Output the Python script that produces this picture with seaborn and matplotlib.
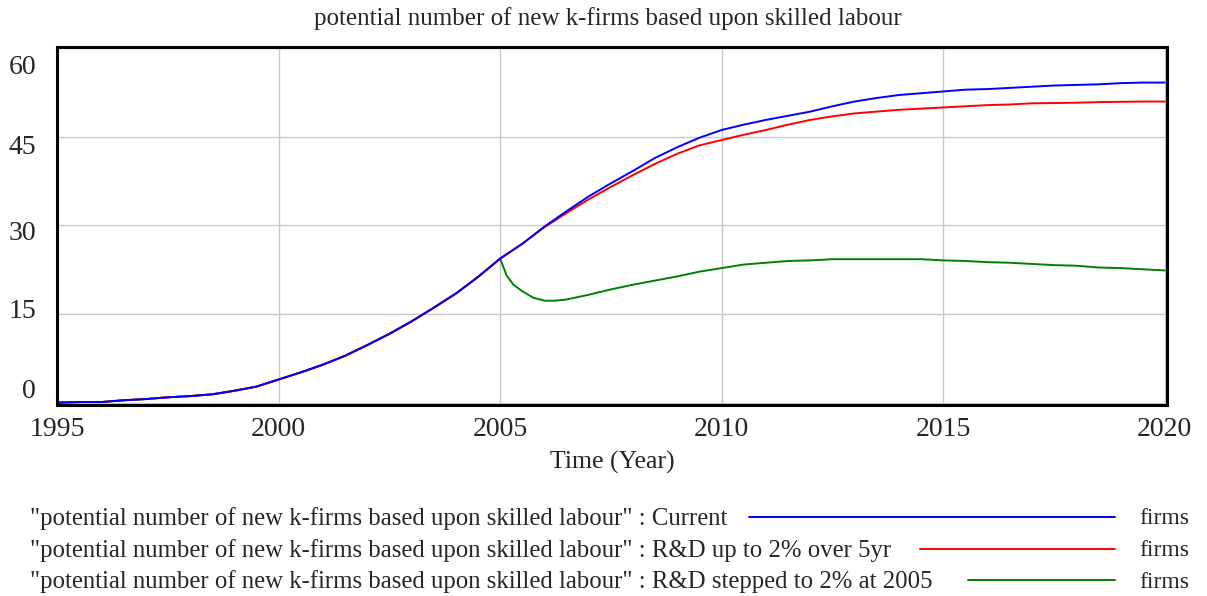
import numpy as np
import pandas as pd
import seaborn as sns
import matplotlib.pyplot as plt
from matplotlib.lines import Line2D
from matplotlib.transforms import ScaledTranslation

# Series values (firms)
years = [1995.0, 1995.5, 1996.0, 1996.5, 1997.0, 1997.5, 1998.0, 1998.5, 1999.0, 1999.5,
         2000.0, 2000.5, 2001.0, 2001.5, 2002.0, 2002.5, 2003.0, 2003.5, 2004.0, 2004.5,
         2005.0, 2005.5, 2006.0, 2006.5, 2007.0, 2007.5, 2008.0, 2008.5, 2009.0, 2009.5,
         2010.0, 2010.5, 2011.0, 2011.5, 2012.0, 2012.5, 2013.0, 2013.5, 2014.0, 2014.5,
         2015.0, 2015.5, 2016.0, 2016.5, 2017.0, 2017.5, 2018.0, 2018.5, 2019.0, 2019.5,
         2020.0]

current = [0.1, 0.2, 0.2, 0.5, 0.7, 1.0, 1.2, 1.5, 2.1, 2.8,
           4.0, 5.2, 6.5, 8.0, 9.8, 11.7, 13.8, 16.1, 18.5, 21.3,
           24.4, 26.9, 29.8, 32.4, 34.9, 37.1, 39.2, 41.4, 43.2, 44.8,
           46.1, 47.0, 47.8, 48.5, 49.2, 50.1, 50.9, 51.5, 52.0, 52.3,
           52.6, 52.9, 53.0, 53.2, 53.4, 53.6, 53.7, 53.8, 54.0, 54.1,
           54.1]

rd_over_5yr = [0.1, 0.2, 0.2, 0.5, 0.7, 1.0, 1.2, 1.5, 2.1, 2.8,
               4.0, 5.2, 6.5, 8.0, 9.8, 11.7, 13.8, 16.1, 18.5, 21.3,
               24.4, 26.9, 29.7, 32.1, 34.4, 36.5, 38.5, 40.4, 42.1, 43.5,
               44.4, 45.3, 46.1, 47.0, 47.8, 48.4, 48.9, 49.2, 49.5, 49.7,
               49.9, 50.1, 50.3, 50.4, 50.6, 50.65, 50.7, 50.8, 50.85, 50.9,
               50.9]

years_stepped = [1995.0, 1995.5, 1996.0, 1996.5, 1997.0, 1997.5, 1998.0, 1998.5, 1999.0, 1999.5,
                 2000.0, 2000.5, 2001.0, 2001.5, 2002.0, 2002.5, 2003.0, 2003.5, 2004.0, 2004.5,
                 2005.0, 2005.15, 2005.3, 2005.5, 2005.75, 2006.0, 2006.25, 2006.5, 2007.0, 2007.5,
                 2008.0, 2008.5, 2009.0, 2009.5, 2010.0, 2010.5, 2011.0, 2011.5, 2012.0, 2012.5,
                 2013.0, 2013.5, 2014.0, 2014.5, 2015.0, 2015.5, 2016.0, 2016.5, 2017.0, 2017.5,
                 2018.0, 2018.5, 2019.0, 2019.5, 2020.0]

rd_stepped_2005 = [0.1, 0.2, 0.2, 0.5, 0.7, 1.0, 1.2, 1.5, 2.1, 2.8,
                   4.0, 5.2, 6.5, 8.0, 9.8, 11.7, 13.8, 16.1, 18.5, 21.3,
                   24.4, 21.5, 20.0, 18.9, 17.8, 17.3, 17.3, 17.5, 18.3, 19.2,
                   20.0, 20.7, 21.4, 22.2, 22.8, 23.4, 23.7, 24.0, 24.1, 24.3,
                   24.3, 24.3, 24.3, 24.3, 24.1, 24.0, 23.8, 23.7, 23.5, 23.3,
                   23.2, 22.9, 22.8, 22.6, 22.4]

scenarios = ["Current", "R&D up to 2% over 5yr", "R&D stepped to 2% at 2005"]
colors = ["#0000ff", "#ff0000", "#008000"]
y_ticks = [0, 15, 30, 45, 60]
x_ticks = [1995, 2000, 2005, 2010, 2015, 2020]
var_name = "potential number of new k-firms based upon skilled labour"

df = pd.concat([
    pd.DataFrame({"year": years, "value": current, "run": scenarios[0]}),
    pd.DataFrame({"year": years, "value": rd_over_5yr, "run": scenarios[1]}),
    pd.DataFrame({"year": years_stepped, "value": rd_stepped_2005, "run": scenarios[2]}),
], ignore_index=True)

sns.set_style("white")
plt.rcParams["font.family"] = ["Liberation Serif", "DejaVu Serif"]

W, H = 1207, 596
fig = plt.figure(figsize=(W / 100, H / 100), dpi=100)
ax = fig.add_axes([57 / W, 1 - 405 / H, (1167 - 57) / W, (405 - 47) / H])

# draw in reverse so blue sits on top, like the original
for run, col in list(zip(scenarios, colors))[::-1]:
    sns.lineplot(data=df[df["run"] == run], x="year", y="value", color=col,
                 linewidth=1.4, ax=ax, legend=False, estimator=None, sort=False)

ax.set_xlim(1995, 2020.05)
ax.set_ylim(-0.3, 60.1)
ax.set_xticks(x_ticks)
ax.set_yticks(y_ticks)
ax.set_xticklabels([str(t) for t in x_ticks])
ax.set_yticklabels([str(t) for t in y_ticks])
ax.grid(True, color="#c8c8c8", linewidth=1.0)
ax.set_axisbelow(True)
for s in ax.spines.values():
    s.set_color("black")
    s.set_linewidth(2.2)
ax.tick_params(axis="both", length=0, labelsize=20)
ax.tick_params(axis="y", pad=15)
ax.tick_params(axis="x", pad=9)
ax.set_xlabel("Time (Year)", fontsize=18.5, labelpad=6)
ax.set_ylabel("")

# Vensim spreads the y labels slightly away from their gridlines
y_shift = {60: -17, 45: -8, 30: -5, 15: 6, 0: 15}
for lab, t in zip(ax.get_yticklabels(), y_ticks):
    lab.set_transform(lab.get_transform() + ScaledTranslation(0, y_shift[t] / 100, fig.dpi_scale_trans))

fig.text(608 / W, 1 - 19 / H, var_name, ha="center", va="center", fontsize=18)

# legend rows: label, line sample, units
rows_y = [519, 551, 582]
line_start = [749, 920, 968]
for run, col, ry, lx in zip(scenarios, colors, rows_y, line_start):
    fig.text(30 / W, 1 - ry / H, f'"{var_name}" : {run}', ha="left", va="center", fontsize=17.8)
    fig.add_artist(Line2D([lx / W, 1115 / W], [1 - (ry - 2) / H, 1 - (ry - 2) / H],
                          color=col, linewidth=1.4))
    fig.text(1139 / W, 1 - ry / H, "firms", ha="left", va="center", fontsize=17)

fig.savefig("out.png", dpi=100)
